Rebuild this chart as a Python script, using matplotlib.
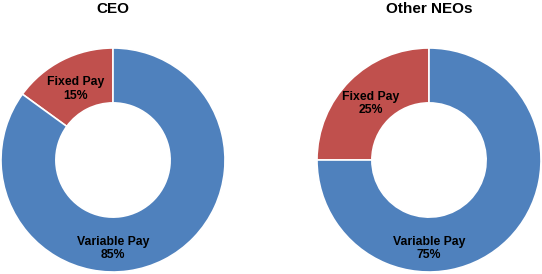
import matplotlib
matplotlib.use("Agg")
import matplotlib.pyplot as plt
import numpy as np

titulos = ["CEO", "Other NEOs"]
categorias = ["Fixed Pay", "Variable Pay"]
valores_ceo = [15, 85]
valores_neos = [25, 75]
cores = ["#C0504D", "#4F81BD"]

plt.rcParams['font.family'] = ['Liberation Sans', 'DejaVu Sans']

larg, alt = 542, 274
fig = plt.figure(figsize=(larg / 100, alt / 100), dpi=100)

# centro e raio de cada rosca em pixels
centros = [(113, 160), (429, 160)]
raio = 112

for titulo, valores, (cx, cy) in zip(titulos, [valores_ceo, valores_neos], centros):
    ax = fig.add_axes([(cx - raio) / larg, (alt - cy - raio) / alt,
                       2 * raio / larg, 2 * raio / alt])
    wedges, _ = ax.pie(valores, colors=cores, startangle=90, counterclock=True,
                       radius=1, wedgeprops=dict(width=0.49, edgecolor='white', linewidth=1.2))
    ax.set_xlim(-1, 1)
    ax.set_ylim(-1, 1)
    ax.axis('off')
    # rotulo do fixo no meio da fatia, variavel embaixo
    w = wedges[0]
    meio = np.deg2rad((w.theta1 + w.theta2) / 2)
    ax.text(0.73 * np.cos(meio), 0.71 * np.sin(meio), f"{categorias[0]}\n{valores[0]}%",
            ha='center', va='center', fontsize=8.8, fontweight='bold', linespacing=1.15)
    ax.text(0, -0.79, f"{categorias[1]}\n{valores[1]}%",
            ha='center', va='center', fontsize=8.8, fontweight='bold', linespacing=1.15)
    fig.text(cx / larg, 1 - 9 / alt, titulo, ha='center', va='center',
             fontsize=11, fontweight='bold')

fig.savefig("out.png", dpi=100)
